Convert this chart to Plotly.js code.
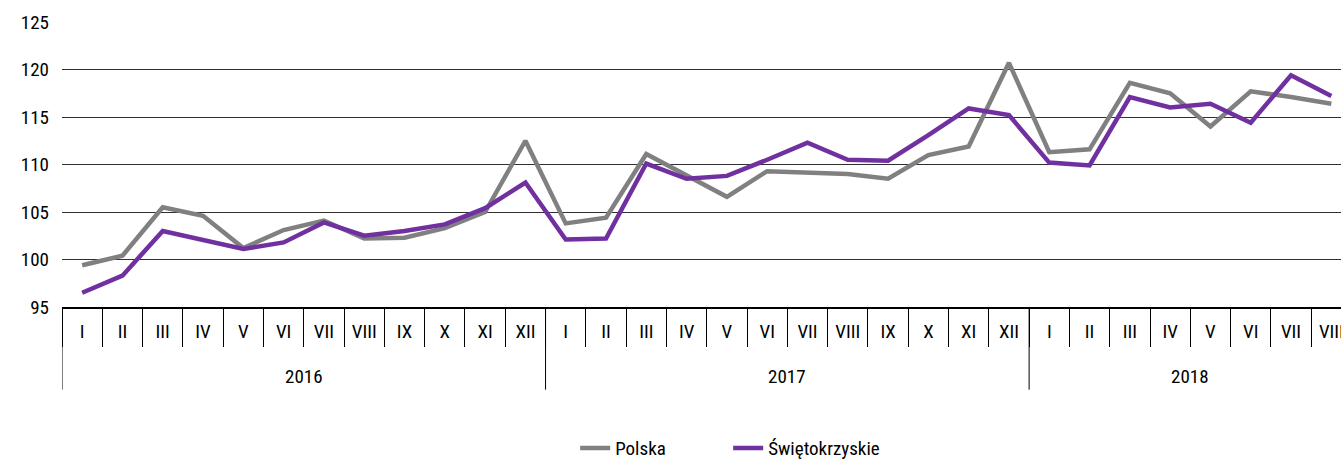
<!DOCTYPE html>
<html>
<head>
<meta charset="utf-8">
<script src="https://cdn.plot.ly/plotly-3.0.1.min.js"></script>
<style>html,body{margin:0;padding:0;background:#fff;}#chart{width:1341px;height:459px;}</style>
</head>
<body>
<div id="chart"></div>
<script>
const years = ["2016","2016","2016","2016","2016","2016","2016","2016","2016","2016","2016","2016",
               "2017","2017","2017","2017","2017","2017","2017","2017","2017","2017","2017","2017",
               "2018","2018","2018","2018","2018","2018","2018","2018"];
const months = ["I","II","III","IV","V","VI","VII","VIII","IX","X","XI","XII",
                "I","II","III","IV","V","VI","VII","VIII","IX","X","XI","XII",
                "I","II","III","IV","V","VI","VII","VIII"];
const polska = [99.4,100.4,105.5,104.6,101.2,103.1,104.1,102.2,102.3,103.3,105.0,112.5,
                103.8,104.4,111.1,108.9,106.6,109.3,109.2,109.0,108.5,111.0,111.9,120.7,
                111.3,111.6,118.6,117.5,114.0,117.7,117.1,116.4];
const swietokrzyskie = [96.5,98.3,103.0,102.1,101.1,101.8,103.9,102.5,103.0,103.7,105.4,108.1,
                102.1,102.2,110.1,108.5,108.8,110.5,112.3,110.5,110.4,113.1,115.9,115.2,
                110.2,109.9,117.1,116.0,116.4,114.4,119.4,117.2];

const FONT = '"Liberation Sans Narrow", "Roboto Condensed", "Noto Sans", sans-serif';
const idx = months.map((m,i)=>i);
const boundaries = idx.map(i=>i-0.5).concat([months.length-0.5]);

// year groups
const groups = [];
years.forEach((y,i)=>{
  if(!groups.length || groups[groups.length-1].name!==y) groups.push({name:y,start:i,end:i});
  else groups[groups.length-1].end=i;
});
const shapes = groups.map(g=>({type:'line',xref:'x',yref:'paper',x0:g.start-0.5,x1:g.start-0.5,y0:0,y1:-0.29,
  line:{color:'#000',width:1}}));
const annotations = groups.map(g=>({xref:'x',yref:'paper',x:(g.start+g.end)/2,y:-0.245,yanchor:'middle',
  text:g.name,showarrow:false,font:{family:FONT,size:19,color:'#000'}}));

const traces = [
  {x:idx,y:polska,name:'Polska',type:'scatter',mode:'lines',line:{color:'#808080',width:4.5}},
  {x:idx,y:swietokrzyskie,name:'Świętokrzyskie',type:'scatter',mode:'lines',line:{color:'#7030A0',width:4.5}}
];

const layout = {
  width:1341,height:459,
  margin:{l:62,r:0,t:22,b:152,autoexpand:false},
  paper_bgcolor:'#fff',plot_bgcolor:'#fff',
  font:{family:FONT,size:19,color:'#000'},
  showlegend:true,
  legend:{orientation:'h',xref:'container',yref:'paper',x:0.543,xanchor:'center',y:-0.495,yanchor:'middle',
    entrywidth:108,tracegroupgap:0,font:{family:FONT,size:19,color:'#000'}},
  xaxis:{range:[-0.5,31.24],tickmode:'array',tickvals:idx,ticktext:months,ticks:'',showgrid:false,zeroline:false,
    showline:true,linecolor:'#000',linewidth:1.5,ticklabelstandoff:7,ticklabeloverflow:'allow',automargin:false,
    tickfont:{family:FONT,size:19,color:'#000'},
    minor:{tickmode:'array',tickvals:boundaries,ticks:'outside',ticklen:38,tickcolor:'#000',tickwidth:1,showgrid:false}},
  yaxis:{range:[95,125],dtick:5,tick0:95,showgrid:true,gridcolor:'#303030',gridwidth:1,zeroline:false,showline:false,
    automargin:false,ticks:'',ticklabelstandoff:12,tickfont:{family:FONT,size:19,color:'#000'}},
  shapes:shapes,annotations:annotations
};
Plotly.newPlot('chart',traces,layout,{displayModeBar:false,staticPlot:true});
</script>
</body>
</html>
